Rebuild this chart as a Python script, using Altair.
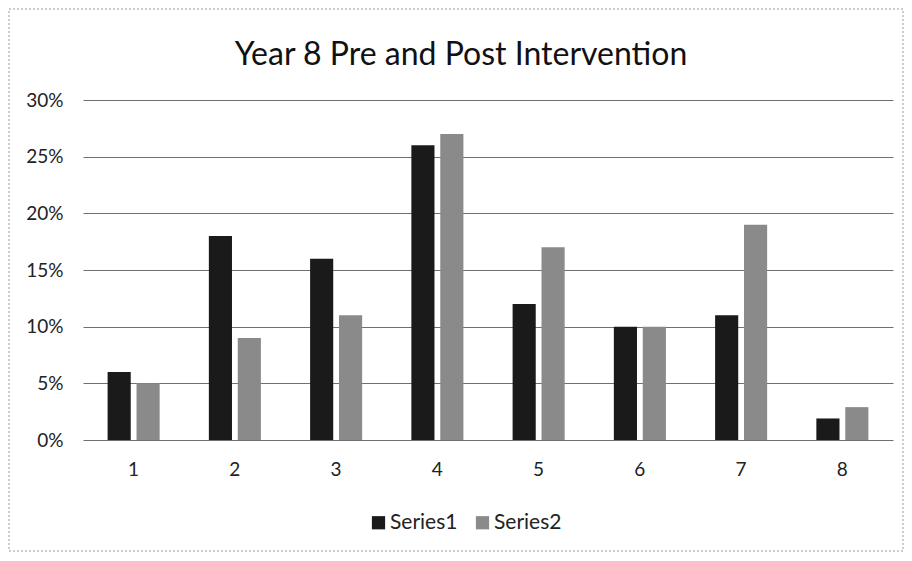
import altair as alt
import pandas as pd

categories = ["1", "2", "3", "4", "5", "6", "7", "8"]
series_names = ["Series1", "Series2"]
series1 = [0.06, 0.18, 0.16, 0.26, 0.12, 0.10, 0.11, 0.019]
series2 = [0.05, 0.09, 0.11, 0.27, 0.17, 0.10, 0.19, 0.029]
y_ticks = [0.0, 0.05, 0.10, 0.15, 0.20, 0.25, 0.30]
colors = ["#1a1a1a", "#8a8a8a"]
title_text = "Year 8 Pre and Post Intervention"

rows = []
for c, a, b in zip(categories, series1, series2):
    rows.append({"cat": c, "series": series_names[0], "value": a})
    rows.append({"cat": c, "series": series_names[1], "value": b})
df = pd.DataFrame(rows)

FONT = "Lato"
W, H = 810, 340

bars = alt.Chart(df).mark_bar().encode(
    x=alt.X(
        "cat:N",
        sort=categories,
        title=None,
        scale=alt.Scale(paddingInner=0.486, paddingOuter=0.243),
        axis=alt.Axis(labelAngle=0, ticks=False, domain=False, labelFontSize=19,
                      labelPadding=20, labelColor="#222222", labelFont=FONT, grid=False),
    ),
    xOffset=alt.XOffset("series:N", sort=series_names,
                        scale=alt.Scale(paddingInner=0.2, paddingOuter=0)),
    y=alt.Y(
        "value:Q",
        title=None,
        scale=alt.Scale(domain=[0, 0.3], nice=False),
        axis=alt.Axis(values=y_ticks, format=".0%", grid=True, gridColor="#707070",
                      gridWidth=1, domain=False, ticks=False, labelPadding=20,
                      labelFontSize=19, labelColor="#222222", labelFont=FONT),
    ),
    color=alt.Color(
        "series:N",
        scale=alt.Scale(domain=series_names, range=colors),
        legend=alt.Legend(orient="none", legendX=285, legendY=412, direction="horizontal",
                          title=None, symbolType="square", symbolSize=175,
                          symbolStrokeWidth=0, labelFontSize=21, labelFont=FONT,
                          labelColor="#222222", columnPadding=14, labelOffset=1),
    ),
)

border = alt.Chart(pd.DataFrame({"a": [0]})).mark_rect(
    fillOpacity=0, stroke="#9a9a9a", strokeDash=[2, 2], strokeWidth=1
).encode(x=alt.value(-74), x2=alt.value(W + 10), y=alt.value(-91), y2=alt.value(H + 111))

title = alt.Chart(pd.DataFrame({"t": [title_text]})).mark_text(
    font=FONT, fontSize=32, color="#111111", align="center", baseline="alphabetic"
).encode(text="t:N", x=alt.value(378), y=alt.value(-35))

chart = alt.layer(border, bars, title).properties(
    width=W,
    height=H,
    autosize=alt.AutoSizeParams(type="none"),
    padding={"left": 75, "top": 92, "right": 11, "bottom": 113},
).configure_view(strokeWidth=0)

chart.save("out.html", embed_options={"renderer": "svg", "actions": False})
